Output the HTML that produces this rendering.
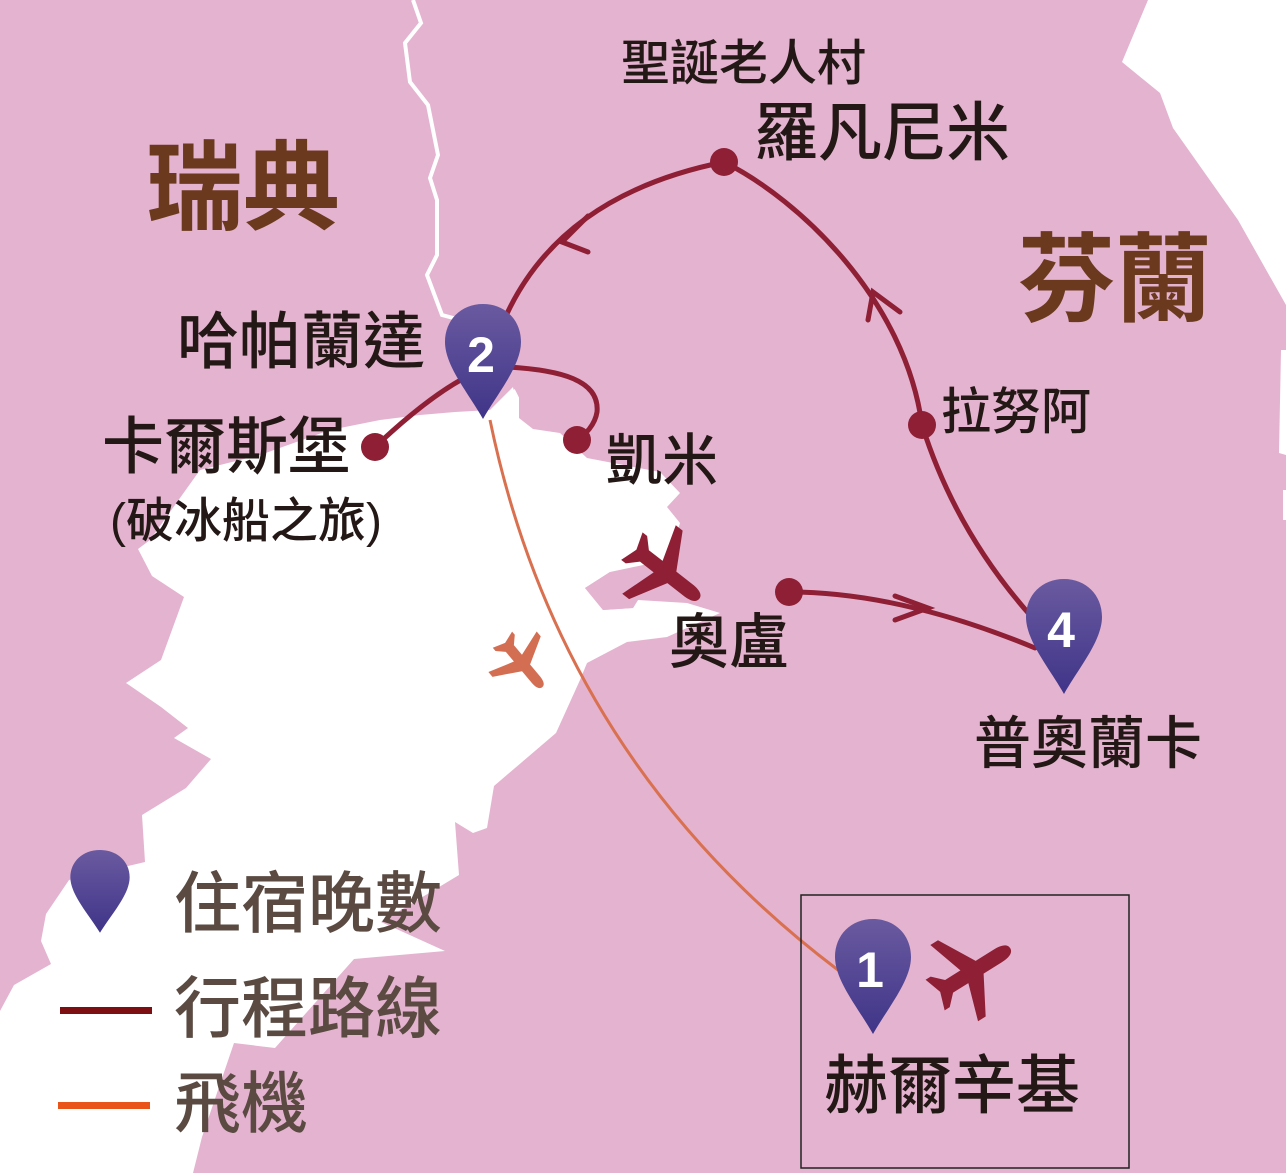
<!DOCTYPE html>
<html><head><meta charset="utf-8"><style>
html,body{margin:0;padding:0;background:#e4b3cf;}
svg{display:block}
text{font-family:"Liberation Sans","Noto Sans CJK TC","Noto Sans CJK SC",sans-serif;}
</style></head><body>
<svg width="1286" height="1173" viewBox="0 0 1286 1173" xmlns="http://www.w3.org/2000/svg">
<defs>
<linearGradient id="pg" x1="0" y1="0" x2="0" y2="1"><stop offset="0" stop-color="#6a5aa0"/><stop offset="1" stop-color="#3f3488"/></linearGradient>
<path id="plane" d="M0,-30 C4,-30 5,-25 5,-20 L5,-6 L30,8 L30,14 L5,6 L5,18 L12,25 L12,29 L0,25 L-12,29 L-12,25 L-5,18 L-5,6 L-30,14 L-30,8 L-5,-6 L-5,-20 C-5,-25 -4,-30 0,-30Z"/>
<path id="pin" d="M0,0 C-22,0 -38,16 -38,38 C-38,62 -14,90 0,115 C14,90 38,62 38,38 C38,16 22,0 0,0Z"/>
</defs>
<rect width="1286" height="1173" fill="#e4b3cf"/>
<polygon fill="#fff" points="1148,0 1286,0 1286,305 1238,220 1173,128 1160,93 1122,62"/>
<polygon fill="#fff" points="1281,350 1286,350 1286,455 1279,453"/>
<polygon fill="#fff" points="1283,490 1286,490 1286,520 1283,520"/>
<polygon fill="#fff" points="513,387 519,418 533,429 560,433 587,458 660,472 680,493 667,507 680,523 677,533 667,560 610,572 585,588 603,610 633,608 638,600 687,603 720,613 667,637 627,642 587,663 580,680 556,733 494,786 487,828 473,833 455,822 459,875 381,922 445,951 354,959 275,1048 234,1043 202,1137 193,1173 0,1173 0,1011 14,985 51,964 41,941 46,914 69,880 145,862 142,815 186,788 211,759 174,738 188,728 161,707 126,683 161,660 184,597 152,576 138,549 150,540 200,470 260,455 330,430 380,420 420,415 455,412 490,410"/>
<polygon fill="#e4b3cf" points="610,572 585,588 603,610 633,608 638,600 627,587"/>
<polyline fill="none" stroke="#fff" stroke-width="4" points="413,0 421,23 405,43 410,82 428,105 438,155 430,178 437,200 437,255 427,275 442,315 457,319"/>
<polyline fill="none" stroke="#fff" stroke-width="4" points="513,390 517,398 517,420"/>
<path d="M490,420 Q560,760 838,970" fill="none" stroke="#d9704f" stroke-width="3"/>
<g fill="none" stroke="#8e1f35" stroke-width="5" stroke-linecap="round">
<path d="M375,447 Q430,395 470,375"/>
<path d="M508,367 C560,370 600,380 597,412 C595,425 585,435 577,440"/>
<path d="M505,318 Q560,195 724,162"/>
<path d="M724,162 C800,200 905,300 922,425"/>
<path d="M922,425 Q955,530 1030,615"/>
<path d="M789,592 Q900,592 1035,648"/>
<polyline points="588,216 562,242 588,252"/>
<polyline points="868,320 873,292 900,312"/>
<polyline points="895,596 928,608 895,620"/>
</g>
<g fill="#8e1f35">
<circle cx="375" cy="447" r="14"/><circle cx="577" cy="440" r="14"/>
<circle cx="724" cy="162" r="14"/><circle cx="922" cy="425" r="14"/>
<circle cx="789" cy="592" r="14"/>
<use href="#plane" transform="translate(665,572) rotate(128) scale(1.45)"/>
<use href="#plane" transform="translate(972,972) rotate(58) scale(1.5)"/>
</g>
<use href="#plane" fill="#d36e52" transform="translate(522,663) rotate(140) scale(1.05)"/>
<use href="#pin" fill="url(#pg)" transform="translate(483,304)"/>
<use href="#pin" fill="url(#pg)" transform="translate(1064,579)"/>
<use href="#pin" fill="url(#pg)" transform="translate(873,919)"/>
<use href="#pin" fill="url(#pg)" transform="translate(100,850) scale(0.78,0.72)"/>
<g fill="#fff" font-weight="bold" font-size="50" text-anchor="middle">
<text x="481" y="372">2</text><text x="1061" y="647">4</text><text x="870" y="987">1</text>
</g>
<rect x="801" y="895" width="328" height="273" fill="none" stroke="#222" stroke-width="1.5"/>
<g fill="#231815" font-weight="500">
<text x="621" y="80" font-size="49">聖誕老人村</text>
<text x="754" y="155" font-size="64">羅凡尼米</text>
<text x="177" y="363" font-size="62">哈帕蘭達</text>
<text x="102" y="468" font-size="62">卡爾斯堡</text>
<text x="110" y="537" font-size="48">(破冰船之旅)</text>
<text x="606" y="480" font-size="56">凱米</text>
<text x="941" y="429" font-size="50">拉努阿</text>
<text x="669" y="663" font-size="60">奧盧</text>
<text x="974" y="763" font-size="57">普奧蘭卡</text>
<text x="824" y="1108" font-size="64">赫爾辛基</text>
</g>
<g fill="#6b3a1e" font-size="97" font-weight="bold">
<text x="146" y="222">瑞典</text>
<text x="1018" y="314">芬蘭</text>
</g>
<g fill="#5a4a42" font-size="67" font-weight="500">
<text x="174" y="927">住宿晚數</text>
<text x="174" y="1032">行程路線</text>
<text x="174" y="1127">飛機</text>
</g>
<rect x="60" y="1007" width="92" height="7" fill="#7d0f12"/>
<rect x="58" y="1102" width="92" height="7" fill="#e8541a"/>
</svg>
</body></html>
